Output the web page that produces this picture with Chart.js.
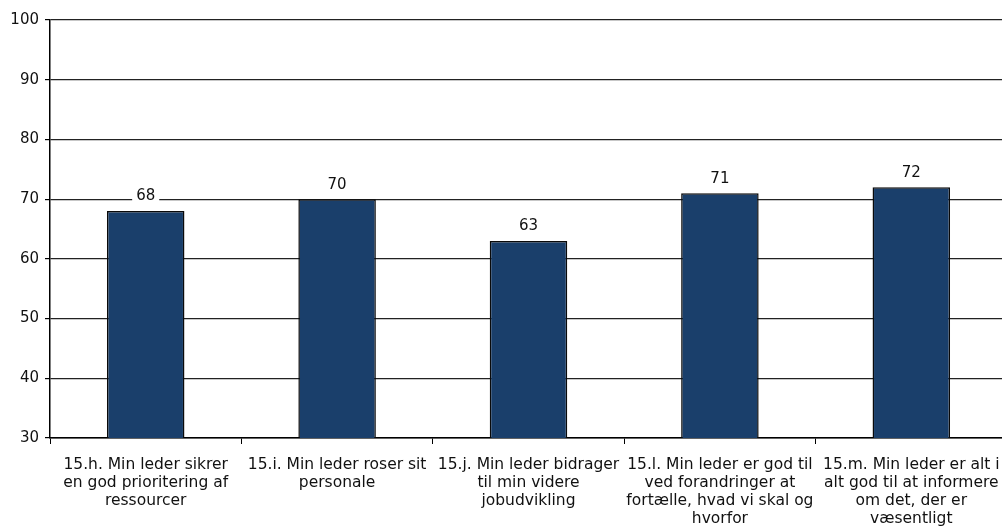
<!DOCTYPE html>
<html>
<head>
<meta charset="utf-8">
<script src="https://cdn.jsdelivr.net/npm/chart.js@4.4.1/dist/chart.umd.min.js"></script>
<style>
  html, body { margin: 0; padding: 0; background: #fff; overflow: hidden; }
  canvas { display: block; }
</style>
</head>
<body>
<canvas id="chart" width="1008" height="527"></canvas>
<script>
// Category labels, pre-wrapped into lines
var categories = [
    ['15.h. Min leder sikrer', 'en god prioritering af', 'ressourcer'],
    ['15.i. Min leder roser sit', 'personale'],
    ['15.j. Min leder bidrager', 'til min videre', 'jobudvikling'],
    ['15.l. Min leder er god til', 'ved forandringer at', 'fortælle, hvad vi skal og', 'hvorfor'],
    ['15.m. Min leder er alt i', 'alt god til at informere', 'om det, der er', 'væsentligt']
];
var scores = [68, 70, 63, 71, 72];
var yTicks = [30, 40, 50, 60, 70, 80, 90, 100];

var FONT = 'Verdana, "DejaVu Sans", sans-serif';

// Value labels above each bar, on a white box so gridlines don't cross the text
var valueLabels = {
    id: 'valueLabels',
    afterDatasetsDraw: function(chart) {
        var ctx = chart.ctx;
        var meta = chart.getDatasetMeta(0);
        ctx.save();
        ctx.font = '15px ' + FONT;
        ctx.textAlign = 'center';
        ctx.textBaseline = 'middle';
        meta.data.forEach(function(bar, i) {
            var txt = String(scores[i]);
            var w = ctx.measureText(txt).width;
            var y = bar.y - 14.5;
            ctx.fillStyle = '#fff';
            ctx.fillRect(bar.x - w / 2 - 4, y - 8, w + 8, 16);
            ctx.fillStyle = '#111';
            ctx.fillText(txt, bar.x, y);
        });
        ctx.restore();
    }
};

var ctx = document.getElementById('chart').getContext('2d');
var chart = new Chart(ctx, {
    type: 'bar',
    data: {
        labels: categories,
        datasets: [{
            data: scores,
            backgroundColor: '#1a3f6b',
            borderColor: '#0a0a0a',
            borderWidth: 1.5,
            borderSkipped: false,
            barPercentage: 0.405,
            categoryPercentage: 1
        }]
    },
    options: {
        responsive: false,
        animation: false,
        layout: { padding: { top: 20, right: 1, left: 0, bottom: 0 } },
        plugins: {
            legend: { display: false },
            tooltip: { enabled: false }
        },
        scales: {
            x: {
                grid: {
                    offset: true,
                    drawOnChartArea: false,
                    drawTicks: true,
                    tickLength: 6,
                    color: '#000'
                },
                border: { color: '#000', width: 1.5 },
                ticks: {
                    color: '#111',
                    font: { family: FONT, size: 15.5, lineHeight: 1.16 },
                    padding: 12,
                    maxRotation: 0,
                    autoSkip: false
                },
                afterFit: function(scale) {
                    scale.height = 89;
                    // labels sit inside their category, no side padding needed
                    scale.paddingLeft = 0;
                    scale.paddingRight = 0;
                }
            },
            y: {
                min: 30,
                max: 100,
                afterBuildTicks: function(scale) {
                    scale.ticks = yTicks.map(function(v) { return { value: v }; });
                },
                grid: {
                    color: '#222',
                    lineWidth: 1.2,
                    drawTicks: true,
                    tickLength: 5,
                    tickColor: '#000'
                },
                border: { color: '#000', width: 1.5 },
                ticks: {
                    color: '#111',
                    font: { family: FONT, size: 15 },
                    padding: 6
                },
                afterFit: function(scale) { scale.width = 50; }
            }
        }
    },
    plugins: [valueLabels]
});
</script>
</body>
</html>
